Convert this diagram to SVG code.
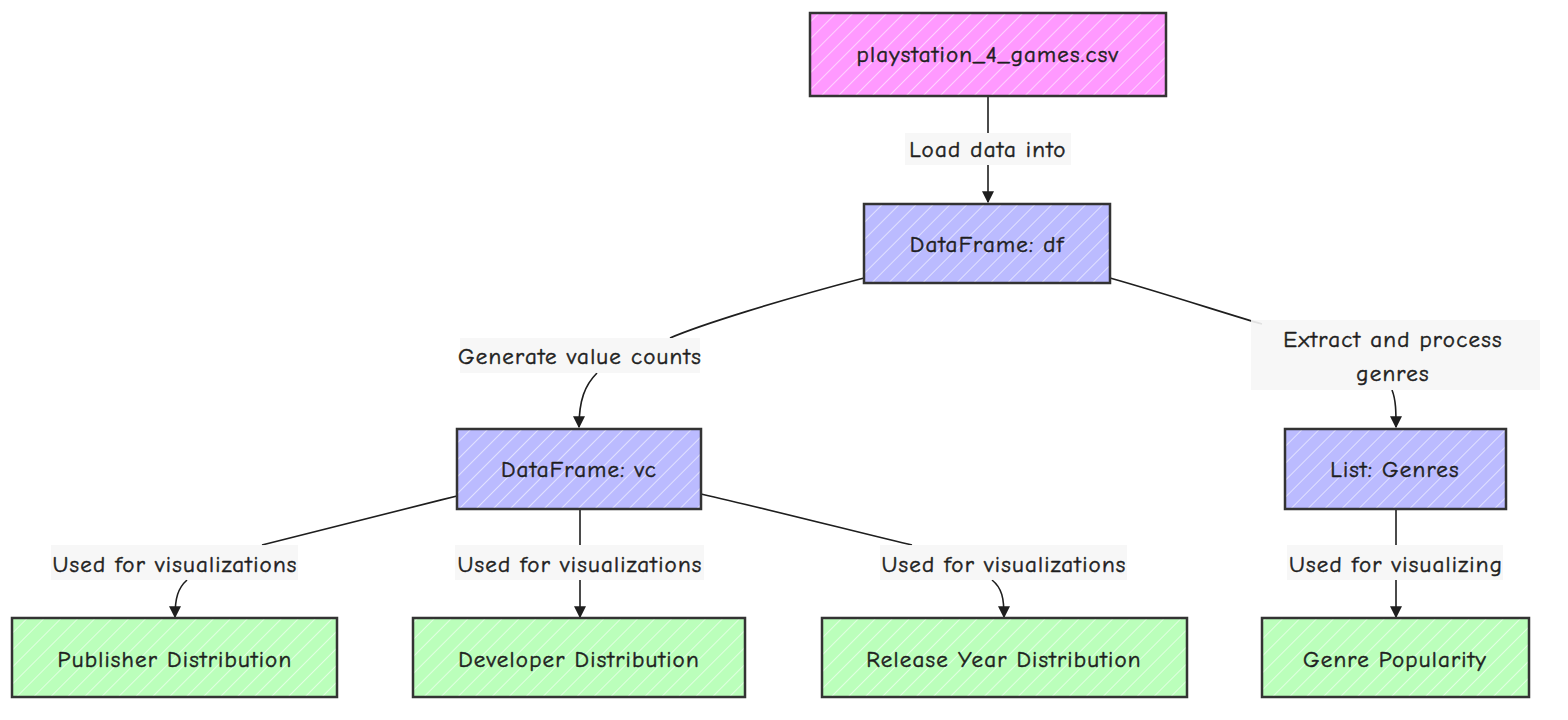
<svg xmlns="http://www.w3.org/2000/svg" width="1568" height="720" viewBox="0 0 1568 720">
<defs>
<style>
.txt{font-family:"Comic Sans MS","Comic Neue","Liberation Sans",sans-serif;font-size:23px;font-weight:400;letter-spacing:1.2px;fill:#1e1e1e;stroke:#1e1e1e;stroke-width:0.5;text-anchor:middle;dominant-baseline:central}
.box{stroke:#333;stroke-width:2.5}
.edge{fill:none;stroke:#1e1e1e;stroke-width:1.6}
.lbl{fill:#f6f6f6;opacity:0.9}
</style>
<pattern id="hp" width="12" height="12" patternUnits="userSpaceOnUse" patternTransform="rotate(45)">
<rect width="12" height="12" fill="#f9f"/><line x1="0" y1="0" x2="0" y2="12" stroke="#fff" stroke-width="1.4" opacity="0.8"/>
</pattern>
<pattern id="hb" width="12" height="12" patternUnits="userSpaceOnUse" patternTransform="rotate(45)">
<rect width="12" height="12" fill="#bbf"/><line x1="0" y1="0" x2="0" y2="12" stroke="#fff" stroke-width="1.4" opacity="0.8"/>
</pattern>
<pattern id="hg" width="12" height="12" patternUnits="userSpaceOnUse" patternTransform="rotate(45)">
<rect width="12" height="12" fill="#bfb"/><line x1="0" y1="0" x2="0" y2="12" stroke="#fff" stroke-width="1.4" opacity="0.8"/>
</pattern>
<marker id="arr" viewBox="0 0 10 10" refX="9" refY="5" markerWidth="12" markerHeight="12" markerUnits="userSpaceOnUse" orient="auto">
<path d="M0,0 L10,5 L0,10 z" fill="#1e1e1e"/>
</marker>
</defs>

<g id="connectors">
<path class="edge" d="M988,96 L988,133"/>
<path class="edge" d="M988,165 L988,202" marker-end="url(#arr)"/>
<path class="edge" d="M864,278 C780,300 700,325 670,338"/>
<path class="edge" d="M597,373 C585,385 579,400 579,427" marker-end="url(#arr)"/>
<path class="edge" d="M1110,278 C1170,295 1230,315 1262,324"/>
<path class="edge" d="M1392,390 C1396,400 1396,412 1396,427" marker-end="url(#arr)"/>
<path class="edge" d="M457,496 C380,515 300,535 262,545"/>
<path class="edge" d="M187,580 C178,588 175,598 175,617" marker-end="url(#arr)"/>
<path class="edge" d="M580,509 L580,545"/>
<path class="edge" d="M580,580 L580,617" marker-end="url(#arr)"/>
<path class="edge" d="M701,494 C780,512 880,538 912,545"/>
<path class="edge" d="M992,580 C1002,588 1004,598 1004,617" marker-end="url(#arr)"/>
<path class="edge" d="M1396,509 L1396,545"/>
<path class="edge" d="M1396,580 L1396,617" marker-end="url(#arr)"/>
</g>

<g id="edge-labels">
<rect class="lbl" x="905" y="133" width="166" height="32"/>
<text class="txt" x="988" y="149">Load data into</text>
<rect class="lbl" x="460" y="338" width="240" height="35"/>
<text class="txt" x="580" y="356">Generate value counts</text>
<rect class="lbl" x="1251" y="320" width="289" height="70"/>
<text class="txt" x="1393" y="339">Extract and process</text>
<text class="txt" x="1393" y="373">genres</text>
<rect class="lbl" x="51" y="545" width="247" height="35"/>
<text class="txt" x="175" y="564">Used for visualizations</text>
<rect class="lbl" x="455" y="545" width="249" height="35"/>
<text class="txt" x="580" y="564">Used for visualizations</text>
<rect class="lbl" x="880" y="545" width="247" height="35"/>
<text class="txt" x="1004" y="564">Used for visualizations</text>
<rect class="lbl" x="1287" y="545" width="216" height="35"/>
<text class="txt" x="1396" y="564">Used for visualizing</text>
</g>

<g id="csv"><rect class="box" x="810" y="13" width="356" height="83" fill="url(#hp)"/><text class="txt" x="988" y="54">playstation_4_games.csv</text></g>
<g id="df"><rect class="box" x="864" y="204" width="246" height="79" fill="url(#hb)"/><text class="txt" x="987" y="244">DataFrame: df</text></g>
<g id="vc"><rect class="box" x="457" y="429" width="244" height="80" fill="url(#hb)"/><text class="txt" x="579" y="469">DataFrame: vc</text></g>
<g id="genres"><rect class="box" x="1285" y="429" width="221" height="80" fill="url(#hb)"/><text class="txt" x="1395" y="469">List: Genres</text></g>
<g id="publisher"><rect class="box" x="12" y="618" width="325" height="79" fill="url(#hg)"/><text class="txt" x="175" y="659">Publisher Distribution</text></g>
<g id="developer"><rect class="box" x="413" y="618" width="332" height="79" fill="url(#hg)"/><text class="txt" x="579" y="659">Developer Distribution</text></g>
<g id="release"><rect class="box" x="822" y="618" width="365" height="79" fill="url(#hg)"/><text class="txt" x="1004" y="659">Release Year Distribution</text></g>
<g id="popularity"><rect class="box" x="1262" y="618" width="267" height="79" fill="url(#hg)"/><text class="txt" x="1395" y="659">Genre Popularity</text></g>
</svg>
